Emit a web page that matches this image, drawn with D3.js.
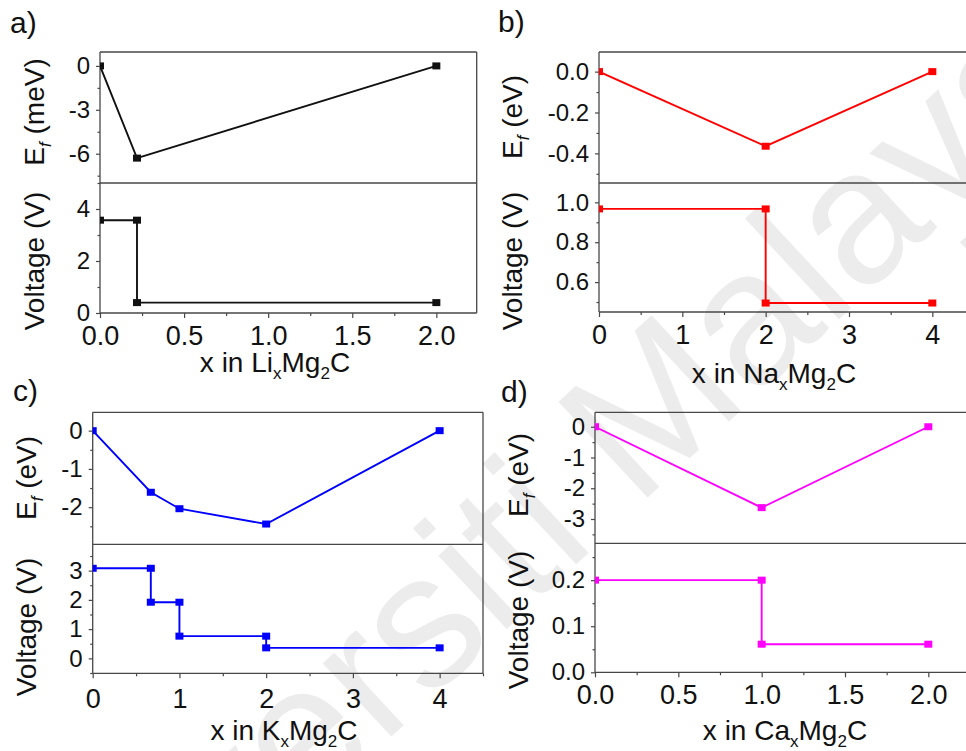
<!DOCTYPE html>
<html>
<head>
<meta charset="utf-8">
<script src="https://cdn.jsdelivr.net/npm/d3@7"></script>
<style>
  body { margin: 0; background: #fff; }
  svg { display: block; font-family: "Liberation Sans", Arial, sans-serif; }
</style>
</head>
<body>
<svg id="chart" width="966" height="751"></svg>
<script>
// a) Li_xMg2C
const liX = [0, 0.22, 2];
const liEf = [0, -6.3, 0];
const liStepX = [0, 0.22, 0.22, 2];
const liVolt = [3.57, 3.57, 0.4, 0.4];

// b) Na_xMg2C
const naX = [0, 2, 4];
const naEf = [0, -0.365, 0];
const naStepX = [0, 2, 2, 4];
const naVolt = [0.967, 0.967, 0.495, 0.495];

// c) K_xMg2C
const kX = [0, 0.67, 1, 2, 4];
const kEf = [0, -1.61, -2.04, -2.44, 0];
const kStepX = [0, 0.67, 0.67, 1, 1, 2, 2, 4];
const kVolt = [3.08, 3.08, 1.92, 1.92, 0.76, 0.76, 0.36, 0.36];

// d) Ca_xMg2C
const caX = [0, 1, 2];
const caEf = [0, -2.63, 0];
const caStepX = [0, 1, 1, 2];
const caVolt = [0.2, 0.2, 0.061, 0.061];

// tick labels
const liXTicks = ['0.0', '0.5', '1.0', '1.5', '2.0'];
const liEfTicks = ['0', '-3', '-6'];
const liVTicks = ['0', '2', '4'];
const naXTicks = ['0', '1', '2', '3', '4'];
const naEfTicks = ['0.0', '-0.2', '-0.4'];
const naVTicks = ['0.6', '0.8', '1.0'];
const kXTicks = ['0', '1', '2', '3', '4'];
const kEfTicks = ['0', '-1', '-2'];
const kVTicks = ['0', '1', '2', '3'];
const caXTicks = ['0.0', '0.5', '1.0', '1.5', '2.0'];
const caEfTicks = ['0', '-1', '-2', '-3'];
const caVTicks = ['0.0', '0.1', '0.2'];

const svg = d3.select('#chart');

// faint watermark behind everything
svg.append('text')
  .attr('transform', 'translate(510,535) rotate(-43)')
  .attr('text-anchor', 'middle')
  .attr('dy', '0.35em')
  .style('font-size', '190px')
  .style('fill', '#ececec')
  .text('Universiti Malaya');

const panels = [
  {
    tag: 'a)', tagX: 10, tagY: 33, color: '#111111', elem: 'Li', efUnit: 'meV',
    x: liX, ef: liEf, stepX: liStepX, volt: liVolt,
    xTicks: liXTicks, efTicks: liEfTicks, vTicks: liVTicks,
    left: 100, right: 476.7, top: 52, mid: 183, bottom: 313,
    xDom: [0, 2.24], efDom: [-8, 0.95], vDom: [0, 5],
    xMinor: 0.25, efMinor: 1.5, vMinor: 1,
    xTickPad: 8, titleX: 275, titleY: 372, yTitleX: 44, efTitleY: 112, vTitleY: 261
  },
  {
    tag: 'b)', tagX: 498, tagY: 32, color: '#ff0000', elem: 'Na', efUnit: 'eV',
    x: naX, ef: naEf, stepX: naStepX, volt: naVolt,
    xTicks: naXTicks, efTicks: naEfTicks, vTicks: naVTicks,
    left: 599, right: 974, top: 52, mid: 183, bottom: 312,
    xDom: [0, 4.5], efDom: [-0.545, 0.096], vDom: [0.45, 1.097],
    xMinor: 0.5, efMinor: 0.1, vMinor: 0.1,
    xTickPad: 8, titleX: 774, titleY: 383, yTitleX: 522, efTitleY: 117, vTitleY: 261
  },
  {
    tag: 'c)', tagX: 13, tagY: 401, color: '#0000ff', elem: 'K', efUnit: 'eV',
    x: kX, ef: kEf, stepX: kStepX, volt: kVolt,
    xTicks: kXTicks, efTicks: kEfTicks, vTicks: kVTicks,
    left: 92.7, right: 483, top: 412.3, mid: 544.3, bottom: 673.3,
    xDom: [0, 4.5], efDom: [-2.97, 0.48], vDom: [-0.51, 3.9],
    xMinor: 0.5, efMinor: 0.5, vMinor: 0.5,
    xTickPad: 11, titleX: 284, titleY: 740, yTitleX: 36, efTitleY: 478, vTitleY: 627
  },
  {
    tag: 'd)', tagX: 501, tagY: 402, color: '#ff00ff', elem: 'Ca', efUnit: 'eV',
    x: caX, ef: caEf, stepX: caStepX, volt: caVolt,
    xTicks: caXTicks, efTicks: caEfTicks, vTicks: caVTicks,
    left: 595, right: 970, top: 412.3, mid: 543.3, bottom: 672.3,
    xDom: [0, 2.25], efDom: [-3.79, 0.47], vDom: [0, 0.28],
    xMinor: 0.25, efMinor: 0.5, vMinor: 0.05,
    xTickPad: 8, titleX: 785, titleY: 740, yTitleX: 528, efTitleY: 475, vTitleY: 620
  }
];

const frameColor = '#474747';

function minorValues(dom, step) {
  const lo = Math.min(dom[0], dom[1]);
  const hi = Math.max(dom[0], dom[1]);
  const out = [];
  for (let k = Math.ceil(lo / step - 1e-6); k * step <= hi + 1e-9; k++) out.push(+(k * step).toFixed(6));
  return out;
}

function styleAxis(sel) {
  sel.select('.domain').remove();
  sel.selectAll('.tick line').attr('stroke', frameColor).attr('stroke-width', 1.2);
  sel.selectAll('.tick text').attr('fill', '#111');
}

panels.forEach((p, pi) => {
  const g = svg.append('g');

  const x = d3.scaleLinear().domain(p.xDom).range([p.left, p.right]);
  const yEf = d3.scaleLinear().domain(p.efDom).range([p.mid, p.top]);
  const yV = d3.scaleLinear().domain(p.vDom).range([p.bottom, p.mid]);

  // clip regions for the two stacked plots
  const defs = g.append('defs');
  defs.append('clipPath').attr('id', 'clipTop' + pi)
    .append('rect').attr('x', p.left).attr('y', p.top)
    .attr('width', p.right - p.left).attr('height', p.mid - p.top);
  defs.append('clipPath').attr('id', 'clipBot' + pi)
    .append('rect').attr('x', p.left).attr('y', p.mid)
    .attr('width', p.right - p.left).attr('height', p.bottom - p.mid);

  // left axes: major + minor
  const efAx = g.append('g').attr('transform', `translate(${p.left},0)`)
    .call(d3.axisLeft(yEf).tickValues(p.efTicks.map(Number))
      .tickFormat((d, i) => p.efTicks[i]).tickSize(4).tickPadding(6));
  const vAx = g.append('g').attr('transform', `translate(${p.left},0)`)
    .call(d3.axisLeft(yV).tickValues(p.vTicks.map(Number))
      .tickFormat((d, i) => p.vTicks[i]).tickSize(4).tickPadding(6));
  [efAx, vAx].forEach(a => {
    styleAxis(a);
    a.selectAll('.tick text').style('font-size', '24px');
  });
  styleAxis(g.append('g').attr('transform', `translate(${p.left},0)`)
    .call(d3.axisLeft(yEf).tickValues(minorValues(p.efDom, p.efMinor)
      .filter(v => !p.efTicks.map(Number).includes(v))).tickFormat('').tickSize(2.5)));
  styleAxis(g.append('g').attr('transform', `translate(${p.left},0)`)
    .call(d3.axisLeft(yV).tickValues(minorValues(p.vDom, p.vMinor)
      .filter(v => !p.vTicks.map(Number).includes(v))).tickFormat('').tickSize(2.5)));

  // bottom axis
  const xAx = g.append('g').attr('transform', `translate(0,${p.bottom})`)
    .call(d3.axisBottom(x).tickValues(p.xTicks.map(Number))
      .tickFormat((d, i) => p.xTicks[i]).tickSize(5).tickPadding(p.xTickPad));
  styleAxis(xAx);
  xAx.selectAll('.tick text').style('font-size', '27px');
  styleAxis(g.append('g').attr('transform', `translate(0,${p.bottom})`)
    .call(d3.axisBottom(x).tickValues(minorValues(p.xDom, p.xMinor)
      .filter(v => !p.xTicks.map(Number).includes(v))).tickFormat('').tickSize(3)));

  // frame lines
  const frame = [
    [p.left, p.top, p.right, p.top],
    [p.left, p.mid, p.right, p.mid],
    [p.left, p.bottom, p.right, p.bottom],
    [p.left, p.top, p.left, p.bottom],
    [p.right, p.top, p.right, p.bottom]
  ];
  g.selectAll('line.frame').data(frame).join('line')
    .attr('class', 'frame')
    .attr('x1', d => d[0]).attr('y1', d => d[1])
    .attr('x2', d => d[2]).attr('y2', d => d[3])
    .attr('stroke', frameColor).attr('stroke-width', 1.3);

  // formation energy line + markers
  const efPts = p.x.map((v, i) => [v, p.ef[i]]);
  const top = g.append('g').attr('clip-path', `url(#clipTop${pi})`);
  top.append('path').datum(efPts)
    .attr('fill', 'none').attr('stroke', p.color).attr('stroke-width', 1.9)
    .attr('d', d3.line().x(d => x(d[0])).y(d => yEf(d[1])));
  top.selectAll('rect').data(efPts).join('rect')
    .attr('x', d => x(d[0]) - 4).attr('y', d => yEf(d[1]) - 3.5)
    .attr('width', 8).attr('height', 7).attr('fill', p.color);

  // voltage step line + markers
  const vPts = p.stepX.map((v, i) => [v, p.volt[i]]);
  const bot = g.append('g').attr('clip-path', `url(#clipBot${pi})`);
  bot.append('path').datum(vPts)
    .attr('fill', 'none').attr('stroke', p.color).attr('stroke-width', 1.9)
    .attr('d', d3.line().x(d => x(d[0])).y(d => yV(d[1])));
  bot.selectAll('rect').data(vPts).join('rect')
    .attr('x', d => x(d[0]) - 4).attr('y', d => yV(d[1]) - 3.5)
    .attr('width', 8).attr('height', 7).attr('fill', p.color);

  // panel tag
  g.append('text').attr('x', p.tagX).attr('y', p.tagY)
    .style('font-size', '30px').attr('fill', '#111').text(p.tag);

  // x title with subscripts
  const xt = g.append('text').attr('x', p.titleX).attr('y', p.titleY)
    .attr('text-anchor', 'middle').style('font-size', '28px').attr('fill', '#111');
  xt.append('tspan').text('x in ' + p.elem);
  xt.append('tspan').attr('dy', 7).style('font-size', '17px').text('x');
  xt.append('tspan').attr('dy', -7).text('Mg');
  xt.append('tspan').attr('dy', 7).style('font-size', '17px').text('2');
  xt.append('tspan').attr('dy', -7).text('C');

  // y titles
  const et = g.append('text')
    .attr('transform', `translate(${p.yTitleX},${p.efTitleY}) rotate(-90)`)
    .attr('text-anchor', 'middle').style('font-size', '28px').attr('fill', '#111');
  et.append('tspan').text('E');
  et.append('tspan').attr('dy', 7).style('font-size', '17px').style('font-style', 'italic').text('f');
  et.append('tspan').attr('dy', -7).text(` (${p.efUnit})`);

  g.append('text')
    .attr('transform', `translate(${p.yTitleX},${p.vTitleY}) rotate(-90)`)
    .attr('text-anchor', 'middle').style('font-size', '28px').attr('fill', '#111')
    .text('Voltage (V)');
});
</script>
</body>
</html>
